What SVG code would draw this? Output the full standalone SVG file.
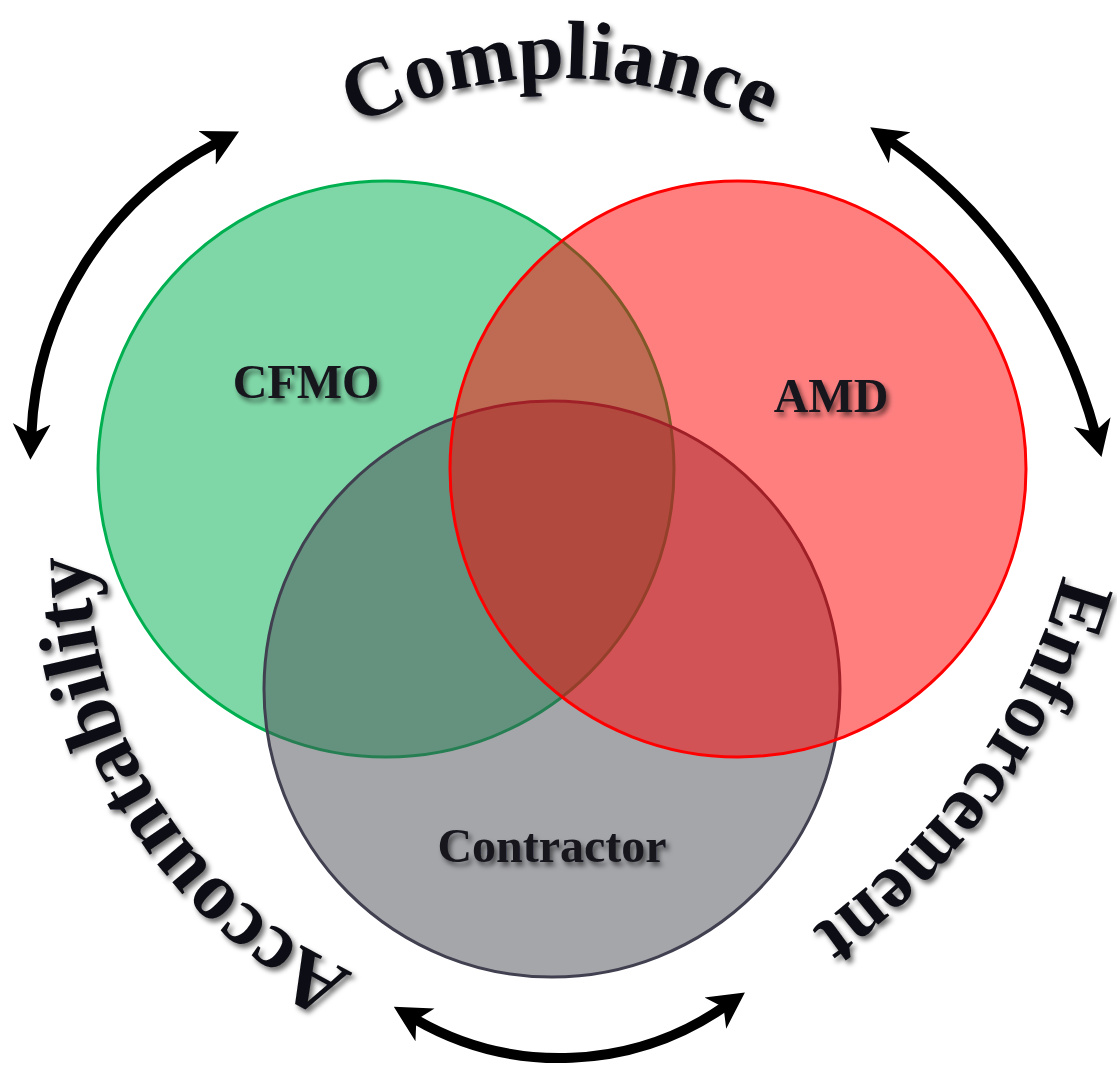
<svg xmlns="http://www.w3.org/2000/svg" width="1117" height="1066" viewBox="0 0 1117 1066">
<style>
.t{font-family:"Liberation Serif","Times New Roman",serif;font-weight:bold;fill:#0a0a12;}
.big{font-size:83px;}
.enf{font-size:80px;}
.lbl{font-size:48px;text-anchor:middle;fill:#15151f;}
.arr{fill:none;stroke:#000;stroke-width:10;marker-start:url(#ah);marker-end:url(#ah);}
</style>
<defs>
<filter id="sh" x="-20%" y="-20%" width="140%" height="140%">
<feGaussianBlur in="SourceGraphic" stdDeviation="0.6" result="b"/>
<feDropShadow in="b" dx="3" dy="4" stdDeviation="2.5" flood-color="#000" flood-opacity="0.55"/>
</filter>
<marker id="ah" viewBox="0 -20 40 40" refX="12" refY="0" markerWidth="40" markerHeight="40" markerUnits="userSpaceOnUse" orient="auto-start-reverse">
<path d="M36,0 L0,-19 L10,0 L0,19 Z" fill="#000"/>
</marker>
<path id="pComp" d="M121.2,385.3 A467,467 0 0 1 998.8,385.3"/>
<path id="pEnf" d="M1027.3,134.7 A642,642 0 0 1 384.7,1042.2"/>
<path id="pAcc" d="M568.3,1015.6 A460,460 0 0 1 141.3,342.9"/>
</defs>
<rect width="1117" height="1066" fill="#fff"/>
<g id="cfmo">
<circle cx="386" cy="469" r="288" fill="#00b050" fill-opacity="0.5" stroke="#00b050" stroke-width="3"/>
</g>
<g id="contractor">
<circle cx="552" cy="689" r="288" fill="#4b4d55" fill-opacity="0.5" stroke="#404050" stroke-width="3"/>
</g>
<g id="amd">
<circle cx="738" cy="469" r="288" fill="#ff0000" fill-opacity="0.5" stroke="#ff0000" stroke-width="3"/>
</g>
<g id="labels" filter="url(#sh)">
<text class="t lbl" x="306" y="398">CFMO</text>
<text class="t lbl" x="831" y="412">AMD</text>
<text class="t lbl" x="552" y="862">Contractor</text>
</g>
<g id="connectors">
<path class="arr" d="M31.3,435.8 A345,345 0 0 1 217.7,142.4"/>
<path class="arr" d="M889.9,140.9 A520,520 0 0 1 1095.3,433.7"/>
<path class="arr" d="M414.6,1018.9 A289.5,289.5 0 0 0 725.2,1006.2"/>
</g>
<g id="arc-labels" filter="url(#sh)">
<text class="t big"><textPath href="#pComp" startOffset="50%" text-anchor="middle">Compliance</textPath></text>
<text class="t enf"><textPath href="#pEnf" startOffset="50%" text-anchor="middle">Enforcement</textPath></text>
<text class="t big"><textPath href="#pAcc" startOffset="50%" text-anchor="middle">Accountability</textPath></text>
</g>
</svg>
